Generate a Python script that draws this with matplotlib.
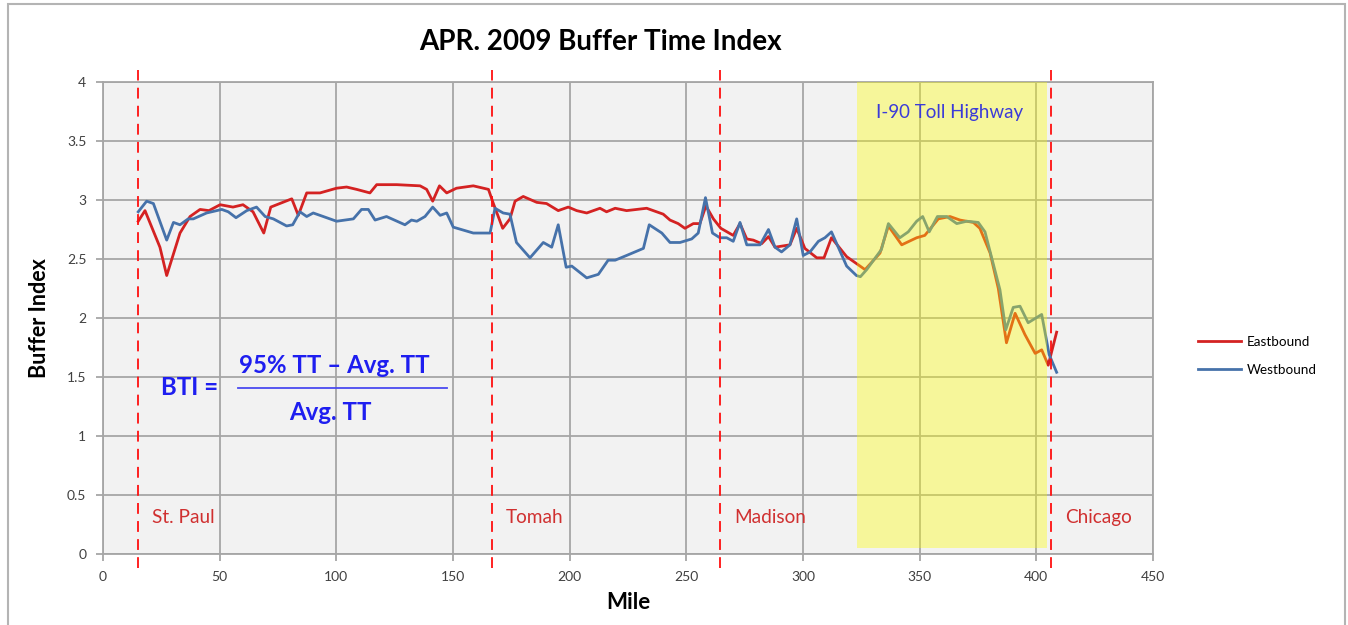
import matplotlib
matplotlib.use("Agg")
import matplotlib.pyplot as plt
from matplotlib.patches import Rectangle
from matplotlib.lines import Line2D

plt.rcParams['font.family'] = ['Lato', 'DejaVu Sans']

east_mile = [15.1, 18.0, 24.4, 27.3, 33.0, 37.3, 41.6, 45.4, 50.2, 55.7, 60.0, 64.3, 68.9, 71.9,
             80.9, 83.7, 87.3, 93.0, 100.1, 104.4, 108.7, 114.4, 117.3, 125.9, 135.9, 138.7,
             141.3, 144.2, 147.3, 151.5, 158.7, 165.2, 167.3, 171.3, 174.4, 176.6, 180.1,
             185.9, 190.1, 195.1, 199.4, 203.0, 207.3, 213.0, 215.8, 219.5, 224.4, 228.7,
             233.0, 240.1, 243.0, 246.5, 249.4, 253.0, 255.8, 258.4, 261.6, 264.8, 270.1,
             273.0, 275.9, 278.7, 282.3, 285.2, 288.0, 294.4, 297.3, 300.8, 305.9, 309.0,
             312.2, 318.7, 326.6, 333.0, 336.6, 342.3, 348.7, 352.2, 358.0, 363.0, 367.3,
             373.0, 375.8, 380.2, 383.7, 387.2, 390.9, 395.1, 399.5, 402.3, 405.1, 408.7]
east_bti = [2.82, 2.91, 2.60, 2.36, 2.72, 2.86, 2.92, 2.91, 2.96, 2.94, 2.96, 2.90, 2.72, 2.94,
            3.01, 2.87, 3.06, 3.06, 3.10, 3.11, 3.09, 3.06, 3.13, 3.13, 3.12, 3.09,
            2.99, 3.12, 3.06, 3.10, 3.12, 3.09, 2.97, 2.76, 2.84, 2.99, 3.03,
            2.98, 2.97, 2.91, 2.94, 2.91, 2.89, 2.93, 2.90, 2.93, 2.91, 2.92,
            2.93, 2.88, 2.83, 2.80, 2.76, 2.80, 2.80, 2.95, 2.84, 2.76, 2.70,
            2.80, 2.67, 2.66, 2.63, 2.69, 2.60, 2.62, 2.76, 2.59, 2.51, 2.51,
            2.68, 2.52, 2.41, 2.55, 2.78, 2.62, 2.68, 2.70, 2.84, 2.86, 2.83,
            2.81, 2.76, 2.55, 2.25, 1.79, 2.04, 1.86, 1.70, 1.73, 1.60, 1.88]

west_mile = [15.1, 18.7, 21.6, 27.3, 30.2, 33.0, 36.5, 38.7, 44.4, 50.9, 53.7, 57.0, 61.6, 65.8, 69.5,
             73.0, 78.7, 81.3, 84.4, 87.3, 90.1, 94.4, 100.1, 107.3, 110.8, 113.7, 116.6, 121.5,
             129.4, 132.2, 134.5, 138.0, 141.3, 144.5, 147.3, 150.1, 158.7, 165.9, 168.0, 171.5,
             174.4, 177.2, 183.0, 188.7, 192.3, 195.1, 198.5, 200.9, 207.3, 212.3, 216.5, 219.5,
             224.4, 231.6, 234.1, 239.5, 243.0, 247.3, 252.3, 255.1, 258.2, 261.2, 264.4, 267.3,
             270.1, 273.0, 275.9, 281.6, 285.2, 288.0, 290.8, 294.4, 297.3, 300.1, 303.0,
             306.6, 309.4, 312.2, 318.7, 322.9, 324.6, 327.3, 333.6, 336.6, 341.5, 345.1,
             348.7, 351.3, 354.1, 357.6, 361.6, 365.9, 370.2, 375.1, 378.0, 384.4, 386.9,
             390.1, 393.0, 396.5, 402.3, 405.5, 408.7]
west_bti = [2.90, 2.99, 2.97, 2.66, 2.81, 2.79, 2.84, 2.84, 2.89, 2.92, 2.90, 2.85, 2.91, 2.94, 2.86,
            2.84, 2.78, 2.79, 2.90, 2.86, 2.89, 2.86, 2.82, 2.84, 2.92, 2.92, 2.83, 2.86,
            2.79, 2.83, 2.82, 2.86, 2.94, 2.87, 2.89, 2.77, 2.72, 2.72, 2.93, 2.89,
            2.88, 2.64, 2.51, 2.64, 2.60, 2.79, 2.43, 2.44, 2.34, 2.37, 2.49, 2.49,
            2.53, 2.59, 2.79, 2.72, 2.64, 2.64, 2.67, 2.72, 3.02, 2.72, 2.68, 2.68,
            2.65, 2.81, 2.62, 2.62, 2.75, 2.60, 2.56, 2.62, 2.84, 2.53, 2.56,
            2.65, 2.68, 2.73, 2.44, 2.36, 2.35, 2.41, 2.58, 2.80, 2.68, 2.73,
            2.82, 2.86, 2.73, 2.86, 2.86, 2.80, 2.82, 2.81, 2.73, 2.24, 1.90,
            2.09, 2.10, 1.96, 2.03, 1.69, 1.54]

city_names = ["St. Paul", "Tomah", "Madison", "Chicago"]
city_miles = [15, 166.7, 264.4, 406.3]
toll_start, toll_end = 323, 404.5
x_ticks = [0, 50, 100, 150, 200, 250, 300, 350, 400, 450]
y_ticks = [0, 0.5, 1, 1.5, 2, 2.5, 3, 3.5, 4]
y_ticklabels = ["0", "0.5", "1", "1.5", "2", "2.5", "3", "3.5", "4"]

W, H = 1348, 625
fig = plt.figure(figsize=(W / 100, H / 100), dpi=100)
fig.patch.set_facecolor('white')
ax = fig.add_axes([103 / W, 1 - 554 / H, 1050 / W, 472 / H])
ax.set_facecolor('#f2f2f2')

grid_c = '#a6a6a6'
ax.set_xlim(0, 450)
ax.set_ylim(0, 4)
ax.set_xticks(x_ticks)
ax.set_yticks(y_ticks)
ax.set_yticklabels(y_ticklabels)
ax.grid(True, color=grid_c, lw=1.3, zorder=0)
ax.set_axisbelow(True)
for s in ax.spines.values():
    s.set_color(grid_c)
    s.set_linewidth(1.3)
ax.tick_params(direction='out', length=5, width=1.3, color=grid_c,
               labelsize=10, labelcolor='#404040', pad=7)

red = '#d42222'
blue = '#4672aa'
ax.plot(east_mile, east_bti, color=red, lw=2.0, zorder=3, label='Eastbound')
ax.plot(west_mile, west_bti, color=blue, lw=2.0, zorder=3, label='Westbound')

ax.add_patch(Rectangle((toll_start, 0.05), toll_end - toll_start, 3.95,
                       facecolor='#ffff00', alpha=0.36, edgecolor='none', zorder=4))

for m in city_miles:
    ax.plot([m, m], [-0.12, 4.1], color='#ff1010', lw=1.3, dashes=(6, 4),
            clip_on=False, zorder=5)

for name, m in zip(city_names, city_miles):
    ax.text(m + 6, 0.31, name, color='#d03030', fontsize=13.7, va='center', ha='left', zorder=6)

ax.text(363, 3.745, "I-90 Toll Highway", color='#3b3bd8', fontsize=13.5,
        ha='center', va='center', zorder=6)

# formula
fblue = '#1e1ef0'
ax.text(37.3, 1.41, "BTI =", color=fblue, fontsize=17.3, fontweight='bold', ha='center', va='center', zorder=6)
ax.text(99.2, 1.6, "95% TT \u2013 Avg. TT", color=fblue, fontsize=17.3, fontweight='bold',
        ha='center', va='center', zorder=6)
ax.text(97.3, 1.2, "Avg. TT", color=fblue, fontsize=17.3, fontweight='bold',
        ha='center', va='center', zorder=6)
ax.plot([58, 147.4], [1.41, 1.41], color='#4a4af0', lw=1.3, zorder=6)

ax.set_xlabel("Mile", fontsize=16, fontweight='bold', labelpad=7)
ax.set_ylabel("Buffer Index", fontsize=15.5, fontweight='bold', labelpad=12)

fig.text(600 / W, 1 - 42 / H, "APR. 2009 Buffer Time Index", fontsize=20, fontweight='bold',
         ha='center', va='center')

handles = [Line2D([], [], color=red, lw=2.0), Line2D([], [], color=blue, lw=2.0)]
fig.legend(handles, ['Eastbound', 'Westbound'], loc='upper left',
           bbox_to_anchor=(1186 / W, 1 - 324 / H), frameon=False, fontsize=9.7,
           handlelength=3.2, handletextpad=0.4, labelspacing=1.15)

fig.add_artist(Rectangle((8 / W, -0.05), 1337 / W, 1.05 - 4 / H, transform=fig.transFigure,
                         facecolor='none', edgecolor='#b4b4b4', lw=1.5))

fig.savefig('out.png', dpi=100)
